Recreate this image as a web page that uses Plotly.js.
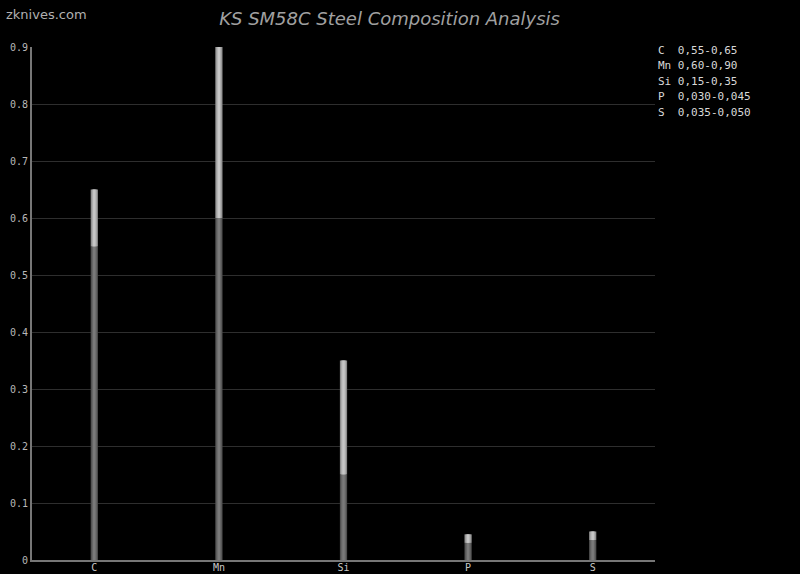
<!DOCTYPE html>
<html>
<head>
<meta charset="utf-8">
<script src="https://cdn.plot.ly/plotly-3.0.1.min.js"></script>
<style>html,body{margin:0;padding:0;background:#000;}#chart{width:800px;height:574px;}</style>
</head>
<body>
<div id="chart"></div>
<script>
const elements = ["C", "Mn", "Si", "P", "S"];
const minVals = [0.55, 0.60, 0.15, 0.030, 0.035];
const maxVals = [0.65, 0.90, 0.35, 0.045, 0.050];
const rangeLabels = ["0,55-0,65", "0,60-0,90", "0,15-0,35", "0,030-0,045", "0,035-0,050"];
const yTicks = [0, 0.1, 0.2, 0.3, 0.4, 0.5, 0.6, 0.7, 0.8, 0.9];

const spans = maxVals.map((v, i) => v - minVals[i]);
const zeros = elements.map(() => 0);

function layerTraces(width, lowColor, highColor) {
  return [
    {type: "bar", x: elements, y: minVals, base: zeros, width: width,
     marker: {color: lowColor, line: {width: 0}}, hoverinfo: "skip", showlegend: false},
    {type: "bar", x: elements, y: spans, base: minVals, width: width,
     marker: {color: highColor, line: {width: 0}}, hoverinfo: "skip", showlegend: false}
  ];
}

const traces = [].concat(
  layerTraces(0.058, "#505050", "#8c8c8c"),
  layerTraces(0.040, "#666666", "#acacac"),
  layerTraces(0.020, "#7a7a7a", "#c6c6c6")
);

const mono = "DejaVu Sans Mono, monospace";
const annotations = elements.map((el, i) => ({
  xref: "paper", yref: "paper", x: 1.002, y: 0.994 - i * 0.0302,
  xanchor: "left", yanchor: "middle", showarrow: false, align: "left",
  text: (el + "  ").slice(0, 3) + rangeLabels[i],
  font: {family: mono, size: 11, color: "#d8d8d8"}
}));
annotations.push({
  xref: "paper", yref: "paper", x: -0.045, y: 1.064, xanchor: "left", yanchor: "middle",
  showarrow: false, text: "zknives.com",
  font: {family: "DejaVu Sans, sans-serif", size: 13, color: "#b0b0b0"}
});

const layout = {
  width: 800, height: 574,
  paper_bgcolor: "#000", plot_bgcolor: "#000",
  margin: {l: 32, r: 145, t: 47, b: 14},
  barmode: "overlay",
  title: {text: "<i>KS SM58C Steel Composition Analysis</i>", x: 0.487, xanchor: "center", y: 0.968, yanchor: "middle",
          font: {family: "DejaVu Sans, sans-serif", size: 18, color: "#a0a0a0"}},
  xaxis: {range: [-0.5, 4.5], showgrid: false, zeroline: false, showline: true, linecolor: "#777", linewidth: 2,
          ticks: "", ticklabelstandoff: -3, tickfont: {family: mono, size: 10, color: "#c8c8c8"}, fixedrange: true},
  yaxis: {range: [0, 0.9], tickvals: yTicks, ticktext: yTicks.map(String), showgrid: true, gridcolor: "#2e2e2e", gridwidth: 1,
          zeroline: false, showline: true, linecolor: "#777", linewidth: 2, ticks: "",
          tickfont: {family: mono, size: 10, color: "#b8b8b8"}, fixedrange: true},
  annotations: annotations,
  showlegend: false
};

Plotly.newPlot("chart", traces, layout, {displayModeBar: false, staticPlot: true});
</script>
</body>
</html>
